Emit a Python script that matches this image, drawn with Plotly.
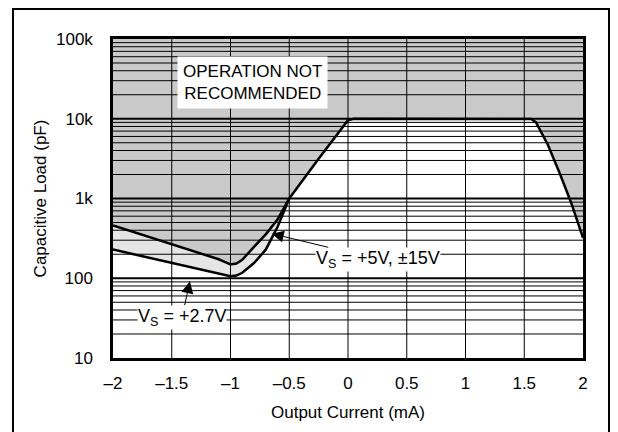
import numpy as np
import plotly.graph_objects as go

# ---- data ----
x_upper = [-2.0, -1.5, -1.1, -1.05, -1.0, -0.95, -0.9, -0.8, -0.7, -0.6, -0.5,
           -0.25, -0.05, 0.0, 0.05, 1.5, 1.56, 1.6, 1.7, 1.8, 1.9, 2.0]
y_upper = [460, 267, 173, 160, 149, 153, 170, 248, 355, 545, 1000,
           3160, 7900, 9600, 10000, 10000, 9900, 9000, 4750, 2100, 880, 320]

x_lower = [-2.0, -1.5, -1.1, -1.05, -1.0, -0.95, -0.9, -0.8, -0.7, -0.6, -0.55, -0.5]
y_lower = [229, 156, 115, 111, 106, 108, 117, 155, 228, 438, 650, 1000]

x_ticks = [-2, -1.5, -1, -0.5, 0, 0.5, 1, 1.5, 2]
x_ticktext = ["\u20132", "\u20131.5", "\u20131", "\u20130.5", "0", "0.5", "1", "1.5", "2"]
y_ticks = [10, 100, 1000, 10000, 100000]
y_ticktext = ["10", "100", "1k", "10k", "100k"]

X_MIN, X_MAX = -2, 2
Y_MIN, Y_MAX = 10, 100000

DARK = "#c9c9c9"
LIGHT = "#e5e5e5"
FONT = "Arial, Liberation Sans, sans-serif"

fig = go.Figure()

# dark region: above upper curve
fig.add_trace(go.Scatter(
    x=x_upper + [X_MAX, X_MIN], y=y_upper + [Y_MAX, Y_MAX],
    fill="toself", fillcolor=DARK, mode="none", hoverinfo="skip", showlegend=False))

# light region between curves (x <= -0.5)
n_l = len(x_lower)
fig.add_trace(go.Scatter(
    x=x_upper[:n_l] + x_lower[::-1], y=y_upper[:n_l] + y_lower[::-1],
    fill="toself", fillcolor=LIGHT, mode="none", hoverinfo="skip", showlegend=False))

# grid lines drawn above the shading
gx, gy = [], []
for e in range(1, 5):
    for k in range(2, 10):
        v = k * 10 ** e
        gx += [X_MIN, X_MAX, None]
        gy += [v, v, None]
fig.add_trace(go.Scatter(x=gx, y=gy, mode="lines", line=dict(color="black", width=1),
                         hoverinfo="skip", showlegend=False))
dx, dy = [], []
for v in y_ticks[1:-1]:
    dx += [X_MIN, X_MAX, None]
    dy += [v, v, None]
fig.add_trace(go.Scatter(x=dx, y=dy, mode="lines", line=dict(color="black", width=2),
                         hoverinfo="skip", showlegend=False))
vx, vy = [], []
for t in x_ticks[1:-1]:
    vx += [t, t, None]
    vy += [Y_MIN, Y_MAX, None]
fig.add_trace(go.Scatter(x=vx, y=vy, mode="lines", line=dict(color="black", width=1),
                         hoverinfo="skip", showlegend=False))

# curves
fig.add_trace(go.Scatter(x=x_upper, y=y_upper, mode="lines",
                         line=dict(color="black", width=2.5), showlegend=False))
fig.add_trace(go.Scatter(x=x_lower, y=y_lower, mode="lines",
                         line=dict(color="black", width=2.5), showlegend=False))

fig.update_xaxes(range=[X_MIN, X_MAX], tickvals=x_ticks, ticktext=x_ticktext,
                 showgrid=False, zeroline=False, showline=True, mirror=True,
                 linecolor="black", linewidth=2.5, ticks="", ticklabelstandoff=8,
                 tickfont=dict(family=FONT, size=17, color="black"),
                 title=dict(text="Output Current (mA)", standoff=14,
                            font=dict(family=FONT, size=17, color="black")))
fig.update_yaxes(type="log", range=[1, 5], tickvals=y_ticks, ticktext=y_ticktext,
                 showgrid=False, zeroline=False, showline=True, mirror=True,
                 linecolor="black", linewidth=2.5, ticks="", ticklabelstandoff=14,
                 tickfont=dict(family=FONT, size=17, color="black"),
                 title=dict(text="Capacitive Load (pF)", standoff=6,
                            font=dict(family=FONT, size=17, color="black")))

fig.add_annotation(x=-0.817, y=4.46, xref="x", yref="y",
                   text="OPERATION NOT<br>RECOMMENDED", showarrow=False,
                   font=dict(family=FONT, size=17, color="black"),
                   bgcolor="white", borderpad=5)
fig.add_annotation(x=-0.649, y=2.559, xref="x", yref="y",
                   ax=0.255, ay=2.2375, axref="x", ayref="y",
                   text="V<sub>S</sub> = +5V, \u00b115V", showarrow=True,
                   arrowhead=2, arrowsize=2.4, arrowwidth=1, arrowcolor="black",
                   font=dict(family=FONT, size=18, color="black"),
                   bgcolor="white", borderpad=0)
fig.add_annotation(x=-1.345, y=1.9625, xref="x", yref="y",
                   ax=-1.413, ay=1.5125, axref="x", ayref="y",
                   text="V<sub>S</sub> = +2.7V", showarrow=True,
                   arrowhead=2, arrowsize=2.4, arrowwidth=1, arrowcolor="black",
                   font=dict(family=FONT, size=18, color="black"),
                   bgcolor="white", borderpad=0)

# outer frame of the figure
fig.add_shape(type="rect", xref="paper", yref="paper",
              x0=-0.2128, x1=1.0553, y0=-0.35, y1=1.094,
              line=dict(color="black", width=2), fillcolor="rgba(0,0,0,0)", layer="above")

fig.update_layout(width=618, height=432, margin=dict(l=105, r=43, t=31, b=82),
                  paper_bgcolor="white", plot_bgcolor="white",
                  font=dict(family=FONT, color="black"))

fig.write_html("out.html")
